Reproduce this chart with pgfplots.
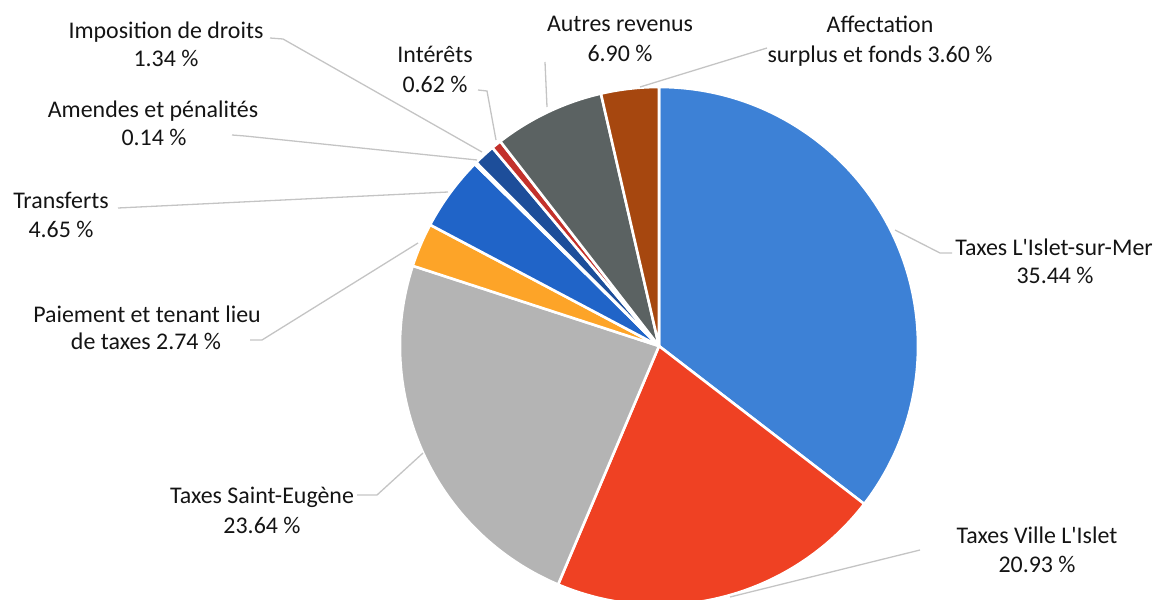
\documentclass[border=0pt]{standalone}
\usepackage{pgfplots}
\pgfplotsset{compat=1.18}
\usepackage{pgfplotstable}
\usepackage{fontspec}
\setmainfont{Carlito}
\definecolor{c1}{HTML}{3D81D6}
\definecolor{c2}{HTML}{EF4123}
\definecolor{c3}{HTML}{B4B4B4}
\definecolor{c4}{HTML}{FDA428}
\definecolor{c5}{HTML}{2064C8}
\definecolor{c6}{HTML}{E4E4E4}
\definecolor{c7}{HTML}{1D4E9A}
\definecolor{c8}{HTML}{C3312B}
\definecolor{c9}{HTML}{5B6262}
\definecolor{c10}{HTML}{A6470F}
\definecolor{lead}{HTML}{C4C4C4}
\definecolor{txt}{HTML}{141414}
\begin{document}
\begin{tikzpicture}
\begin{axis}[scale only axis, width=1158bp, height=599bp,
  xmin=0, xmax=1158, ymin=0, ymax=599, y dir=reverse,
  hide axis, clip=true]
% slices: value / colour (clockwise from 12 o'clock)
\foreach \v/\c [remember=\e as \s (initially 90)] in
  {35.44/c1, 20.93/c2, 23.64/c3, 2.74/c4, 4.65/c5, 0.14/c6, 1.34/c7, 0.62/c8, 6.90/c9, 3.60/c10} {
  \pgfmathsetmacro{\e}{\s-3.6*\v}
  \edef\temp{\noexpand\fill[\c, draw=white, line width=2.6bp, line join=round]
    (axis cs:659,346) -- ++(\s:259bp) arc[start angle=\s, end angle=\e, radius=259bp] -- cycle;}
  \temp
}
% leader lines
\draw[lead, line width=1.3bp] (axis cs:270,38) -- (axis cs:283,39) -- (axis cs:482,152);
\draw[lead, line width=1.3bp] (axis cs:232,135) -- (axis cs:245,136) -- (axis cs:477,160);
\draw[lead, line width=1.3bp] (axis cs:118,208) -- (axis cs:448,192);
\draw[lead, line width=1.3bp] (axis cs:250,340) -- (axis cs:262,340) -- (axis cs:418,243);
\draw[lead, line width=1.3bp] (axis cs:478,90) -- (axis cs:487,91) -- (axis cs:496,140);
\draw[lead, line width=1.3bp] (axis cs:545,62) -- (axis cs:547,107);
\draw[lead, line width=1.3bp] (axis cs:767,48) -- (axis cs:640,87);
\draw[lead, line width=1.3bp] (axis cs:895,230) -- (axis cs:940,253) -- (axis cs:952,253);
\draw[lead, line width=1.3bp] (axis cs:920,550) -- (axis cs:730,597);
\draw[lead, line width=1.3bp] (axis cs:357,495) -- (axis cs:377,495) -- (axis cs:423,453);
% labels
\tikzset{lb/.style={anchor=base, inner sep=0pt, text=txt, font=\fontsize{24}{29}\selectfont}}
\node[lb] at (axis cs:166,39) {Imposition de droits};
\node[lb] at (axis cs:166,67) {1.34 \%};
\node[lb] at (axis cs:153,117) {Amendes et pénalités};
\node[lb] at (axis cs:154,145) {0.14 \%};
\node[lb] at (axis cs:61,208) {Transferts};
\node[lb] at (axis cs:61,237) {4.65 \%};
\node[lb] at (axis cs:147,322) {Paiement et tenant lieu};
\node[lb] at (axis cs:146,349) {de taxes 2.74 \%};
\node[lb] at (axis cs:435,63) {Intérêts};
\node[lb] at (axis cs:435,92) {0.62 \%};
\node[lb] at (axis cs:620,32) {Autres revenus};
\node[lb] at (axis cs:620,62) {6.90 \%};
\node[lb] at (axis cs:880,33) {Affectation};
\node[lb] at (axis cs:880,63) {surplus et fonds 3.60 \%};
\node[lb] at (axis cs:1054,255) {Taxes L\textquotesingle Islet-sur-Mer};
\node[lb] at (axis cs:1055,283) {35.44 \%};
\node[lb] at (axis cs:1037,543) {Taxes Ville L\textquotesingle Islet};
\node[lb] at (axis cs:1037,572) {20.93 \%};
\node[lb] at (axis cs:262,503) {Taxes Saint-Eugène};
\node[lb] at (axis cs:262,533) {23.64 \%};
\end{axis}
\pgfresetboundingbox
\path[use as bounding box] (current axis.south west) rectangle (current axis.north east);
\end{tikzpicture}
\end{document}
